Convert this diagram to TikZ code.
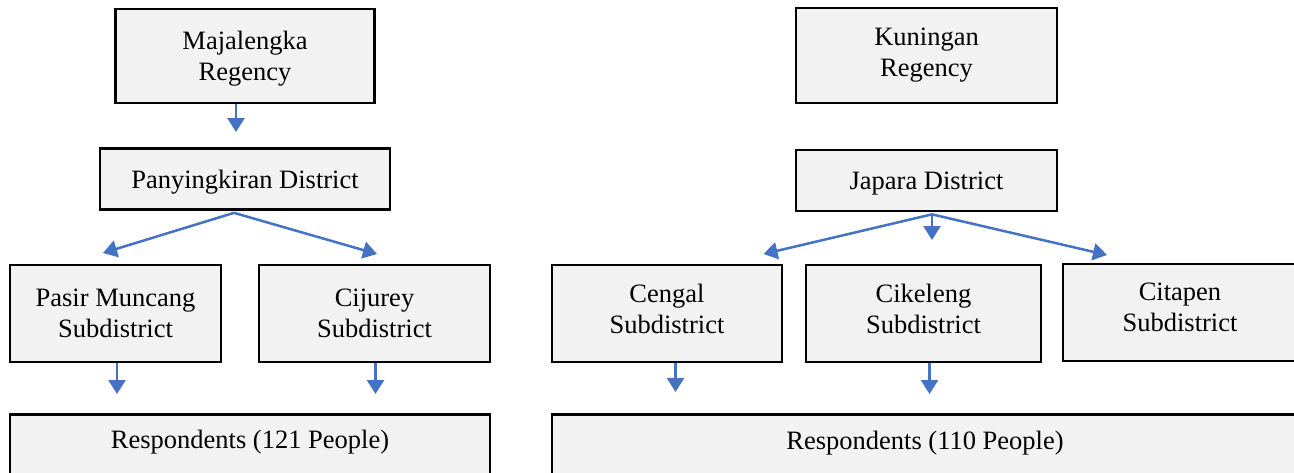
\documentclass[tikz,border=0pt]{standalone}
\usepackage{fontspec}
\setmainfont{Liberation Serif}
\usetikzlibrary{arrows.meta}
\definecolor{boxfill}{HTML}{F2F2F2}
\definecolor{arrblue}{HTML}{4472C4}
\begin{document}
\begin{tikzpicture}[x=1pt,y=-1pt,
  box/.style={draw=black, line width=2.7pt, fill=boxfill, inner sep=0pt, align=center,
    font=\fontsize{26.5}{31}\selectfont},
  arr/.style={draw=arrblue, line width=2.5pt, -{Triangle[width=17pt,length=14pt]}}]
\useasboundingbox (0,0) rectangle (1294,472);
% ---- left ----
\node[box, minimum width=259, minimum height=94, text depth=-1pt] (maj) at (245,56) {Majalengka\\Regency};
\node[box, minimum width=290, minimum height=61, text height=24pt, text depth=6pt] (pan) at (245,179) {Panyingkiran District};
\node[box, minimum width=211, minimum height=97] (pm) at (115.5,313.5) {Pasir Muncang\\Subdistrict};
\node[box, minimum width=231, minimum height=97] (cij) at (374.5,313.5) {Cijurey\\Subdistrict};
\node[box, minimum width=480, text height=34pt, text depth=60pt, anchor=north] (resl) at (250,413) {Respondents (121 People)};
\coordinate (a1) at (236,132);
\coordinate (pl) at (103,253);
\coordinate (pr) at (377,254);
\coordinate (a2) at (117,394);
\coordinate (a3) at (375.5,394);
\draw[arr] (maj.south -| a1) -- (a1);
\draw[arr] ([xshift=-11pt,yshift=-2pt]pan.south) -- (pl);
\draw[arr] ([xshift=-11pt,yshift=-2pt]pan.south) -- (pr);
\draw[arr] (pm.south -| a2) -- (a2);
\draw[arr] (cij.south -| a3) -- (a3);
% ---- right ----
\node[box, minimum width=261, minimum height=95] (kun) at (926.5,55.5) {Kuningan\\Regency};
\node[box, minimum width=261, minimum height=61, text height=24pt, text depth=6pt] (jap) at (926.5,180.5) {Japara District};
\node[box, minimum width=230, minimum height=97, text depth=10pt] (cen) at (667,313.5) {Cengal\\Subdistrict};
\node[box, minimum width=235, minimum height=97, text depth=10pt] (cik) at (923.5,313.5) {Cikeleng\\Subdistrict};
\node[box, minimum width=234, minimum height=97, text depth=10pt] (cit) at (1180,312.5) {Citapen\\Subdistrict};
\node[box, minimum width=746, text height=35pt, text depth=60pt, anchor=north] (resr) at (925,413) {Respondents (110 People)};
\coordinate (jl) at (763.5,254);
\coordinate (jm) at (932,240);
\coordinate (jr) at (1107,255);
\coordinate (a4) at (675.5,392);
\coordinate (a5) at (929.5,394);
\draw[arr] ([xshift=5.5pt,yshift=-2pt]jap.south) -- (jl);
\draw[arr] ([xshift=5.5pt,yshift=-2pt]jap.south) -- (jm);
\draw[arr] ([xshift=5.5pt,yshift=-2pt]jap.south) -- (jr);
\draw[arr] (cen.south -| a4) -- (a4);
\draw[arr] (cik.south -| a5) -- (a5);
\end{tikzpicture}
\end{document}
